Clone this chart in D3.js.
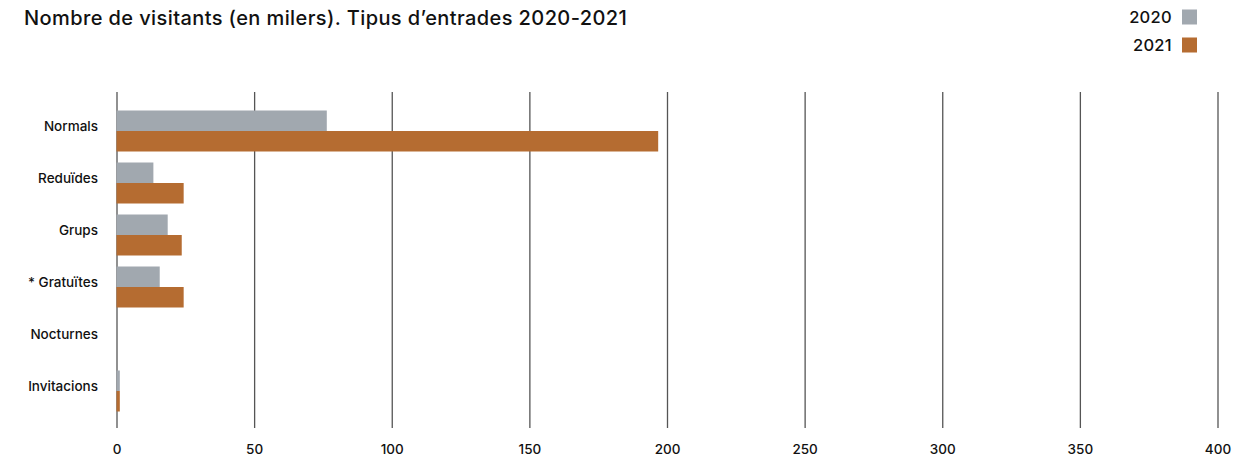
<!DOCTYPE html>
<html><head><meta charset="utf-8">
<script src="https://cdn.jsdelivr.net/npm/d3@7"></script>
<style>
body{margin:0;background:#fff;}
svg text{font-family:Inter,"Liberation Sans",Arial,sans-serif;fill:#111;}
</style></head>
<body><svg id="c" width="1258" height="461"></svg>
<script>
const categories = ["Normals","Reduïdes","Grups","* Gratuïtes","Nocturnes","Invitacions"];
const years = ["2020","2021"];
const values2020 = [76.4, 13.4, 18.6, 15.7, 0, 1.2];
const values2021 = [196.8, 24.4, 23.7, 24.4, 0, 1.2];
const xTicks = [0,50,100,150,200,250,300,350,400];
const colors = ["#a1a8af","#b56c31"];

const svg = d3.select("#c");
const x = d3.scaleLinear().domain([0,400]).range([116.5,1217.5]);
const y = d3.scaleBand().domain(categories).range([105,417]);
const sub = d3.scaleBand().domain(years).range([0,41]);
const series = [values2020, values2021];

// title
svg.append("text").attr("x",24).attr("y",25).attr("font-size",20).attr("font-weight",500)
  .attr("letter-spacing",0.4)
  .text("Nombre de visitants (en milers). Tipus d\u2019entrades 2020-2021");

// legend
years.forEach((yr,i)=>{
  const cy = 17 + i*28;
  svg.append("text").attr("x",1172).attr("y",cy).attr("dy","0.35em").attr("text-anchor","end")
    .attr("font-size",16.5).attr("font-weight",500).attr("letter-spacing",0.3).text(yr);
  svg.append("rect").attr("x",1182).attr("y",cy-7.5).attr("width",15).attr("height",15).attr("fill",colors[i]);
});

// grid
const axis = d3.axisBottom(x).tickValues(xTicks).tickSize(0).tickPadding(0).tickFormat(d3.format("d"));
const g = svg.append("g").attr("transform","translate(0,428)").call(axis);
g.select(".domain").remove();
g.selectAll(".tick line").attr("y1",-336).attr("y2",0).attr("stroke","#555").attr("stroke-width",1.3);
g.selectAll(".tick text").attr("y",21).attr("dy","0.35em").attr("font-size",13.5).attr("font-weight",500)
  .attr("fill","#111").style("font-family","Inter, 'Liberation Sans', Arial, sans-serif");

// bars
series.forEach((vals,i)=>{
  svg.append("g").selectAll("rect").data(vals).join("rect")
    .attr("x",x(0)).attr("y",(d,j)=>y(categories[j]) + (y.bandwidth()-41)/2 + sub(years[i]))
    .attr("width",d=>x(d)-x(0)).attr("height",sub.bandwidth()).attr("fill",colors[i]);
});

// category labels
svg.append("g").selectAll("text").data(categories).join("text")
  .attr("x",98).attr("y",d=>y(d)+y.bandwidth()/2 - 5).attr("dy","0.35em").attr("text-anchor","end")
  .attr("font-size",13.5).attr("font-weight",500).text(d=>d);
</script></body></html>
